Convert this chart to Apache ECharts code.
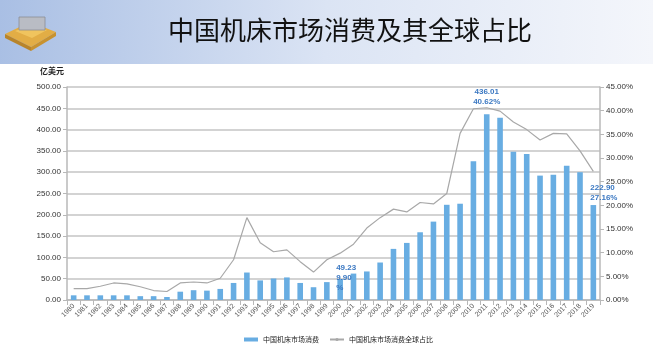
<!DOCTYPE html>
<html><head><meta charset="utf-8">
<script src="https://cdn.jsdelivr.net/npm/echarts@6/dist/echarts.min.js"></script>
<style>html,body{margin:0;padding:0;background:#fff}#c{width:653px;height:359px}</style>
</head><body><div id="c"></div>
<script>
const years = ['1980','1981','1982','1983','1984','1985','1986','1987','1988','1989','1990','1991','1992','1993','1994','1995','1996','1997','1998','1999','2000','2001','2002','2003','2004','2005','2006','2007','2008','2009','2010','2011','2012','2013','2014','2015','2016','2017','2018','2019'];
const consumption = [11,11,11,11,11,9,9,7,19.5,23,22,26,40,64.5,46,50.5,53,40,30,42,49.23,62,67,88,120,134,159,184,223.5,226,325.5,436.01,428,348,343,292,294,315,300,222.9];
const share = [2.4,2.4,2.9,3.6,3.4,2.8,2.0,1.8,3.6,3.8,3.6,4.6,8.5,17.4,12.1,10.2,10.6,8.1,5.9,8.5,9.9,11.8,15.2,17.4,19.2,18.6,20.6,20.3,22.5,35.2,40.4,40.62,39.9,37.6,36.0,33.8,35.2,35.1,31.5,27.16];
const leftTicks = [0,50,100,150,200,250,300,350,400,450,500];
const rightTicks = [0,5,10,15,20,25,30,35,40,45];
const seriesNames = ['中国机床市场消费','中国机床市场消费全球占比'];
const titleText = '中国机床市场消费及其全球占比';
const unitText = '亿美元';
const labelled = [20, 31, 39];

const FONT = '"Liberation Sans","Noto Sans CJK SC",sans-serif';
const labelBase = {show:true, color:'#3b78c2', fontWeight:'bold', fontSize:8, lineHeight:10, fontFamily:FONT};
const labelStyles = {
  20: {position:'top', align:'left', distance:0, offset:[-4, 14], text:(i)=>consumption[i].toFixed(2)+'\n'+share[i].toFixed(2)+'\n%'},
  31: {position:'top', align:'center', distance:7, offset:[0,0], text:(i)=>consumption[i].toFixed(2)+'\n'+share[i].toFixed(2)+'%'},
  39: {position:'top', align:'left', distance:2, offset:[-3,0], text:(i)=>consumption[i].toFixed(2)+'\n'+share[i].toFixed(2)+'%'}
};
const barData = consumption.map((v,i)=>{
  if (labelled.includes(i)) {
    const s = labelStyles[i];
    return {value:v, label:Object.assign({}, labelBase, {position:s.position, align:s.align, distance:s.distance, offset:s.offset, formatter:s.text(i)})};
  }
  return v;
});

const chart = echarts.init(document.getElementById('c'), null, {renderer:'canvas'});
chart.setOption({
  backgroundColor:'#fff',
  animation:false,
  textStyle:{fontFamily:FONT},
  graphic:[
    {type:'rect', left:0, top:0, z:-10, shape:{width:653, height:64},
     style:{fill:new echarts.graphic.LinearGradient(0,0,1,0.3,[{offset:0,color:'#a9bfe4'},{offset:0.5,color:'#dbe4f4'},{offset:1,color:'#f4f6fb'}])}},
    {type:'polygon', z:-5, shape:{points:[[5,34],[30,22],[56,32],[31,47]]}, style:{fill:'#e2ad45'}},
    {type:'polygon', z:-5, shape:{points:[[5,34],[31,47],[31,51],[5,38]]}, style:{fill:'#b8842a'}},
    {type:'polygon', z:-5, shape:{points:[[31,47],[56,32],[56,36],[31,51]]}, style:{fill:'#c8922f'}},
    {type:'polygon', z:-4, shape:{points:[[15,31],[30,25],[47,30],[32,38]]}, style:{fill:'#f0c45e'}},
    {type:'rect', z:-3, shape:{x:19, y:17, width:26, height:13}, style:{fill:'#b9bcc4', stroke:'#8a8d96', lineWidth:0.8}},
    {type:'text', left:168, top:17, style:{text:titleText, fontSize:26, fill:'#111', fontFamily:'"Noto Sans CJK SC",sans-serif'}},
    {type:'text', left:40, top:67, style:{text:unitText, fontSize:8, fontWeight:'bold', fill:'#222', fontFamily:'"Noto Sans CJK SC",sans-serif'}}
  ],
  grid:{left:67, right:53, top:87, bottom:59, containLabel:false},
  legend:{
    left:239, top:331, itemGap:10, itemWidth:14, itemHeight:4,
    textStyle:{fontSize:7, color:'#222', fontFamily:'"Noto Sans CJK SC",sans-serif'},
    data:[{name:seriesNames[0], icon:'rect'},{name:seriesNames[1]}]
  },
  xAxis:{
    type:'category', data:years,
    axisLine:{lineStyle:{color:'#b8b8b8', width:1.5}},
    axisTick:{show:true, alignWithLabel:false, lineStyle:{color:'#b8b8b8'}},
    axisLabel:{interval:0, rotate:45, fontSize:7, color:'#555', margin:5}
  },
  yAxis:[
    {type:'value', min:leftTicks[0], max:leftTicks[leftTicks.length-1], interval:50,
     axisLine:{show:true, lineStyle:{color:'#b8b8b8', width:1.5}},
     axisTick:{show:true, length:4, lineStyle:{color:'#b8b8b8'}},
     splitLine:{lineStyle:{color:'#c4c4c4', width:1.5}},
     axisLabel:{fontSize:8, color:'#333', margin:6, formatter:(v)=>v.toFixed(2)}},
    {type:'value', min:rightTicks[0], max:rightTicks[rightTicks.length-1], interval:5,
     axisLine:{show:true, lineStyle:{color:'#b8b8b8', width:1.5}},
     axisTick:{show:true, length:4, lineStyle:{color:'#b8b8b8'}},
     splitLine:{show:false},
     axisLabel:{fontSize:8, color:'#333', margin:6, formatter:(v)=>v.toFixed(2)+'%'}}
  ],
  series:[
    {name:seriesNames[0], type:'bar', yAxisIndex:0, data:barData, barWidth:'42%',
     itemStyle:{color:'#68ade2'}, z:2},
    {name:seriesNames[1], type:'line', yAxisIndex:1, data:share, symbol:'none',
     lineStyle:{color:'#a8a8a8', width:1.2}, itemStyle:{color:'#a8a8a8'}, z:3}
  ]
});
</script></body></html>
